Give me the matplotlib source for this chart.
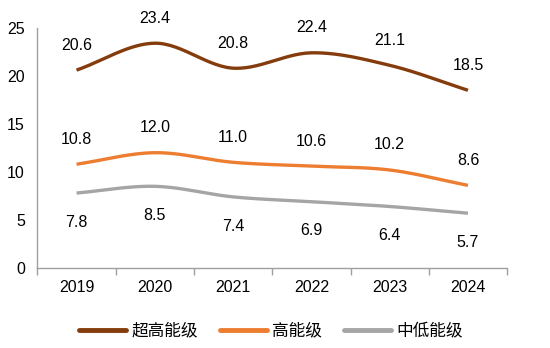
import numpy as np
import matplotlib
matplotlib.use("Agg")
import matplotlib.pyplot as plt

plt.rcParams['font.family'] = ['Liberation Sans', 'Noto Sans CJK SC', 'DejaVu Sans']

years = ["2019", "2020", "2021", "2022", "2023", "2024"]
ultra_high = [20.6, 23.4, 20.8, 22.4, 21.1, 18.5]
high = [10.8, 12.0, 11.0, 10.6, 10.2, 8.6]
mid_low = [7.8, 8.5, 7.4, 6.9, 6.4, 5.7]
series_names = ["超高能级", "高能级", "中低能级"]
colors = ["#843C0C", "#ED7D31", "#A5A5A5"]


def smooth(xs, ys, n=30, tension=0.5):
    """Catmull-Rom style smoothing through every data point."""
    xs = np.asarray(xs, float)
    ys = np.asarray(ys, float)
    px = np.concatenate([[2 * xs[0] - xs[1]], xs, [2 * xs[-1] - xs[-2]]])
    py = np.concatenate([[2 * ys[0] - ys[1]], ys, [2 * ys[-1] - ys[-2]]])
    ox, oy = [], []
    for i in range(1, len(px) - 2):
        p0, p1, p2, p3 = (np.array([px[j], py[j]]) for j in range(i - 1, i + 3))
        m1 = tension * (p2 - p0)
        m2 = tension * (p3 - p1)
        t = np.linspace(0, 1, n, endpoint=(i == len(px) - 3))[:, None]
        h00 = 2 * t**3 - 3 * t**2 + 1
        h10 = t**3 - 2 * t**2 + t
        h01 = -2 * t**3 + 3 * t**2
        h11 = t**3 - t**2
        pts = h00 * p1 + h10 * m1 + h01 * p2 + h11 * m2
        ox.extend(pts[:, 0])
        oy.extend(pts[:, 1])
    return np.array(ox), np.array(oy)


fig = plt.figure(figsize=(5.5, 3.48), dpi=100)
ax = fig.add_axes([0.068, 0.230, 0.854, 0.690])

x = np.arange(len(years))
data = [ultra_high, high, mid_low]
offsets = [18, 18, -21]
for vals, name, c, off in zip(data, series_names, colors, offsets):
    sx, sy = smooth(x, vals)
    ax.plot(sx, sy, color=c, lw=2.4, solid_capstyle='butt', label=name)
    for xi, v in zip(x, vals):
        ax.annotate(f"{v:.1f}", (xi, v), xytext=(0, off), textcoords='offset points',
                    ha='center', va='center', fontsize=11.5, color='#000000')

ax.set_xlim(-0.5, len(years) - 0.5)
ax.set_ylim(0, 25)
ax.set_yticks([0, 5, 10, 15, 20, 25])
ax.set_xticks(x)
ax.set_xticklabels(years)
ax.set_xticks(np.arange(-0.5, len(years)), minor=True)
ax.tick_params(axis='x', which='major', length=0, pad=9, labelsize=11.5)
ax.tick_params(axis='x', which='minor', length=5, color='#A0A0A0', width=1)
ax.tick_params(axis='y', length=0, pad=9, labelsize=11.5)
for s in ['top', 'right']:
    ax.spines[s].set_visible(False)
for s in ['left', 'bottom']:
    ax.spines[s].set_color('#A0A0A0')
    ax.spines[s].set_linewidth(1)

leg = fig.legend(loc='center', bbox_to_anchor=(0.493, 0.05), ncol=3, frameon=False,
                 fontsize=12, handlelength=2.8, columnspacing=1.3, handletextpad=0.35)
for h in leg.legend_handles:
    h.set_linewidth(3.5)
    h.set_solid_capstyle('round')

fig.savefig("out.png", dpi=100)
